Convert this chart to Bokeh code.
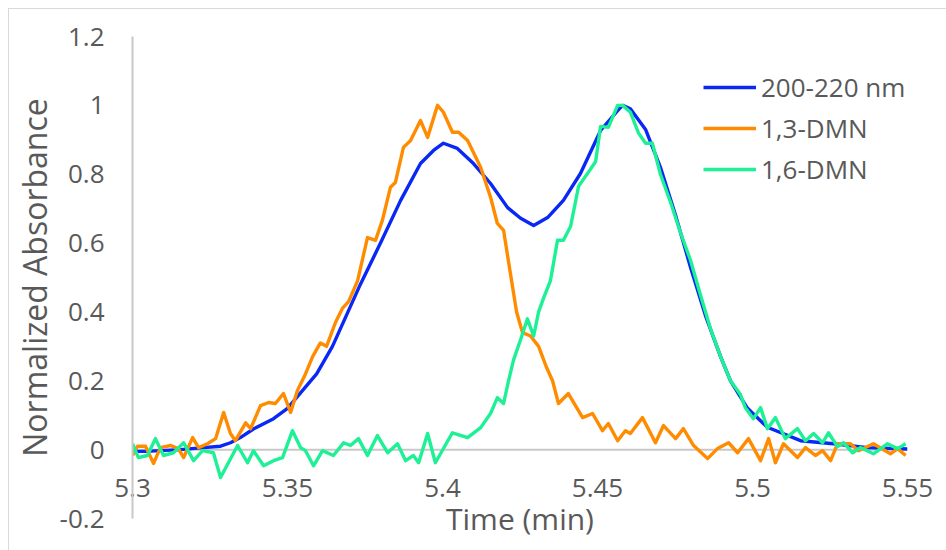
from bokeh.plotting import figure
from bokeh.models import Range1d, FixedTicker, Legend, LegendItem, Span
from bokeh.embed import file_html
from bokeh.resources import INLINE

# ---- data ----
blue_x = [5.3000, 5.3042, 5.3090, 5.3155, 5.3219, 5.3284, 5.3316, 5.3348, 5.3390, 5.3455,
          5.3500, 5.3542, 5.3594, 5.3645, 5.3690, 5.3735, 5.3800, 5.3865, 5.3929, 5.3971,
          5.4003, 5.4048, 5.4100, 5.4155, 5.4210, 5.4252, 5.4294, 5.4339, 5.4390, 5.4445,
          5.4510, 5.4565, 5.4581, 5.4606, 5.4655, 5.4703, 5.4752, 5.4800, 5.4848, 5.4897,
          5.4929, 5.4984, 5.5048, 5.5155, 5.5261, 5.5371, 5.5500]
blue_y = [-0.005, -0.005, -0.003, 0.000, 0.005, 0.010, 0.020, 0.035, 0.060, 0.090,
          0.120, 0.165, 0.220, 0.300, 0.390, 0.480, 0.600, 0.724, 0.831, 0.869,
          0.890, 0.875, 0.831, 0.773, 0.703, 0.672, 0.651, 0.674, 0.724, 0.802,
          0.927, 0.985, 1.000, 0.990, 0.930, 0.820, 0.680, 0.530, 0.390, 0.270,
          0.200, 0.120, 0.065, 0.026, 0.017, 0.006, 0.002]

orange_x = [5.3000, 5.3016, 5.3042, 5.3068, 5.3090, 5.3123, 5.3148, 5.3165, 5.3194, 5.3213,
            5.3242, 5.3268, 5.3294, 5.3316, 5.3332, 5.3365, 5.3381, 5.3413, 5.3439, 5.3461,
            5.3487, 5.3510, 5.3532, 5.3558, 5.3581, 5.3606, 5.3626, 5.3655, 5.3677, 5.3697,
            5.3726, 5.3758, 5.3784, 5.3806, 5.3832, 5.3848, 5.3874, 5.3897, 5.3929, 5.3952,
            5.3984, 5.4003, 5.4032, 5.4052, 5.4081, 5.4123, 5.4155, 5.4177, 5.4197, 5.4219,
            5.4239, 5.4258, 5.4284, 5.4310, 5.4335, 5.4355, 5.4374, 5.4406, 5.4452, 5.4484,
            5.4516, 5.4535, 5.4565, 5.4590, 5.4606, 5.4645, 5.4687, 5.4713, 5.4752, 5.4777,
            5.4810, 5.4855, 5.4887, 5.4923, 5.4952, 5.4987, 5.5026, 5.5052, 5.5074, 5.5100,
            5.5145, 5.5171, 5.5203, 5.5226, 5.5252, 5.5274, 5.5316, 5.5342, 5.5390, 5.5445,
            5.5468, 5.5494]
orange_y = [-0.017, 0.010, 0.010, -0.040, 0.006, 0.012, 0.003, -0.023, 0.035, 0.006,
            0.017, 0.032, 0.108, 0.047, 0.026, 0.078, 0.061, 0.128, 0.137, 0.134,
            0.163, 0.108, 0.172, 0.220, 0.270, 0.310, 0.300, 0.370, 0.410, 0.430,
            0.490, 0.616, 0.608, 0.666, 0.762, 0.776, 0.878, 0.898, 0.956, 0.907,
            1.000, 0.980, 0.922, 0.922, 0.898, 0.820, 0.733, 0.657, 0.637, 0.512,
            0.400, 0.340, 0.330, 0.300, 0.240, 0.200, 0.134, 0.163, 0.093, 0.105,
            0.055, 0.076, 0.026, 0.055, 0.047, 0.093, 0.020, 0.070, 0.032, 0.061,
            0.012, -0.026, 0.003, 0.020, -0.009, 0.032, -0.032, 0.032, -0.038, 0.017,
            -0.023, 0.006, -0.017, -0.003, -0.032, 0.017, 0.017, -0.003, 0.017, -0.012,
            0.003, -0.017]

green_x = [5.3000, 5.3019, 5.3048, 5.3074, 5.3100, 5.3132, 5.3165, 5.3197, 5.3226, 5.3261,
           5.3284, 5.3339, 5.3371, 5.3390, 5.3423, 5.3455, 5.3484, 5.3516, 5.3542, 5.3558,
           5.3584, 5.3613, 5.3648, 5.3681, 5.3703, 5.3729, 5.3758, 5.3790, 5.3823, 5.3855,
           5.3881, 5.3906, 5.3923, 5.3952, 5.3977, 5.4032, 5.4081, 5.4123, 5.4155, 5.4177,
           5.4197, 5.4213, 5.4229, 5.4252, 5.4274, 5.4294, 5.4310, 5.4326, 5.4348, 5.4371,
           5.4390, 5.4413, 5.4439, 5.4477, 5.4494, 5.4510, 5.4535, 5.4565, 5.4581, 5.4606,
           5.4632, 5.4655, 5.4677, 5.4703, 5.4735, 5.4768, 5.4800, 5.4832, 5.4865, 5.4897,
           5.4929, 5.4961, 5.4977, 5.5003, 5.5026, 5.5048, 5.5074, 5.5106, 5.5145, 5.5171,
           5.5197, 5.5226, 5.5245, 5.5274, 5.5294, 5.5323, 5.5348, 5.5390, 5.5435, 5.5468,
           5.5494]
green_y = [0.017, -0.023, -0.017, 0.032, -0.017, -0.009, 0.020, -0.032, -0.003, -0.009,
           -0.081, 0.012, -0.038, -0.003, -0.047, -0.032, -0.023, 0.055, 0.006, -0.003,
           -0.047, -0.003, -0.017, 0.020, 0.012, 0.032, -0.017, 0.041, -0.009, 0.017,
           -0.032, -0.017, -0.038, 0.047, -0.038, 0.049, 0.035, 0.064, 0.105, 0.151,
           0.134, 0.200, 0.260, 0.320, 0.380, 0.330, 0.400, 0.440, 0.490, 0.608,
           0.608, 0.648, 0.765, 0.814, 0.837, 0.939, 0.936, 1.000, 1.000, 0.980,
           0.920, 0.890, 0.890, 0.800, 0.720, 0.630, 0.550, 0.450, 0.350, 0.270,
           0.200, 0.160, 0.122, 0.090, 0.122, 0.061, 0.093, 0.032, 0.061, 0.026,
           0.047, 0.020, 0.049, 0.009, 0.020, -0.009, 0.006, -0.012, 0.017, 0.003,
           0.017]

x_ticks = [5.3, 5.35, 5.4, 5.45, 5.5, 5.55]
y_ticks = [-0.2, 0, 0.2, 0.4, 0.6, 0.8, 1, 1.2]
x_tick_labels = {5.3: "5.3", 5.35: "5.35", 5.4: "5.4", 5.45: "5.45", 5.5: "5.5", 5.55: "5.55"}
y_tick_labels = {-0.2: "-0.2", 0: "0", 0.2: "0.2", 0.4: "0.4", 0.6: "0.6", 0.8: "0.8", 1: "1", 1.2: "1.2"}
series_names = ["200-220 nm", "1,3-DMN", "1,6-DMN"]
series_colors = ["#0a28f5", "#ff8c00", "#1ef096"]

FONT = "Open Sans"
TXT = "#595959"
AXC = "#c8c8c8"

p = figure(width=946, height=550, output_backend="svg", toolbar_location=None,
           x_range=Range1d(5.3, 5.55), y_range=Range1d(-0.2, 1.2),
           min_border_left=132, min_border_right=39, min_border_top=36, min_border_bottom=32)
p.styles = {"background": "linear-gradient(#d9d9d9,#d9d9d9) 8px 8px / 1px 560px no-repeat, "
                          "linear-gradient(#d9d9d9,#d9d9d9) 8px 8px / 960px 1px no-repeat, white"}
p.border_fill_color = None
p.background_fill_color = None
p.outline_line_color = None
p.xgrid.visible = False
p.ygrid.visible = False

# horizontal axis line at y = 0, below the curves
p.add_layout(Span(location=0, dimension="width", line_color=AXC, line_width=2, level="underlay"))

# x axis: labels sit just above the bottom of the frame (below the y = 0 line)
xa = p.xaxis[0]
xa.ticker = FixedTicker(ticks=x_ticks)
xa.major_label_overrides = x_tick_labels
xa.axis_line_color = None
xa.major_tick_line_color = None
xa.minor_tick_line_color = None
xa.major_label_standoff = -46
xa.major_label_text_font = FONT
xa.major_label_text_font_size = "26px"
xa.major_label_text_color = TXT
xa.axis_label = "Time (min)"
xa.axis_label_text_font = FONT
xa.axis_label_text_font_size = "30px"
xa.axis_label_text_font_style = "normal"
xa.axis_label_text_color = TXT
xa.axis_label_standoff = -2

ya = p.yaxis[0]
ya.ticker = FixedTicker(ticks=y_ticks)
ya.major_label_overrides = y_tick_labels
ya.axis_line_color = AXC
ya.axis_line_width = 2
ya.major_tick_line_color = None
ya.minor_tick_line_color = None
ya.major_label_standoff = 22
ya.major_label_text_font = FONT
ya.major_label_text_font_size = "26px"
ya.major_label_text_color = TXT
ya.axis_label = "Normalized Absorbance"
ya.axis_label_text_font = FONT
ya.axis_label_text_font_size = "32px"
ya.axis_label_text_font_style = "normal"
ya.axis_label_text_color = TXT
ya.axis_label_standoff = 1

r_blue = p.line(blue_x, blue_y, line_color=series_colors[0], line_width=3.4, line_join="round")
r_orange = p.line(orange_x, orange_y, line_color=series_colors[1], line_width=3.4, line_join="round")
r_green = p.line(green_x, green_y, line_color=series_colors[2], line_width=3.4, line_join="round")

legend = Legend(items=[LegendItem(label=series_names[0], renderers=[r_blue]),
                       LegendItem(label=series_names[1], renderers=[r_orange]),
                       LegendItem(label=series_names[2], renderers=[r_green])],
                location=(571, 331))
legend.background_fill_alpha = 0
legend.border_line_color = None
legend.padding = 0
legend.margin = 0
legend.spacing = 5
legend.label_height = 30
legend.glyph_height = 30
legend.glyph_width = 53
legend.label_standoff = 5
legend.label_text_font = FONT
legend.label_text_font_size = "26px"
legend.label_text_color = TXT
p.add_layout(legend)

open("out.html", "w").write(file_html(p, INLINE))
